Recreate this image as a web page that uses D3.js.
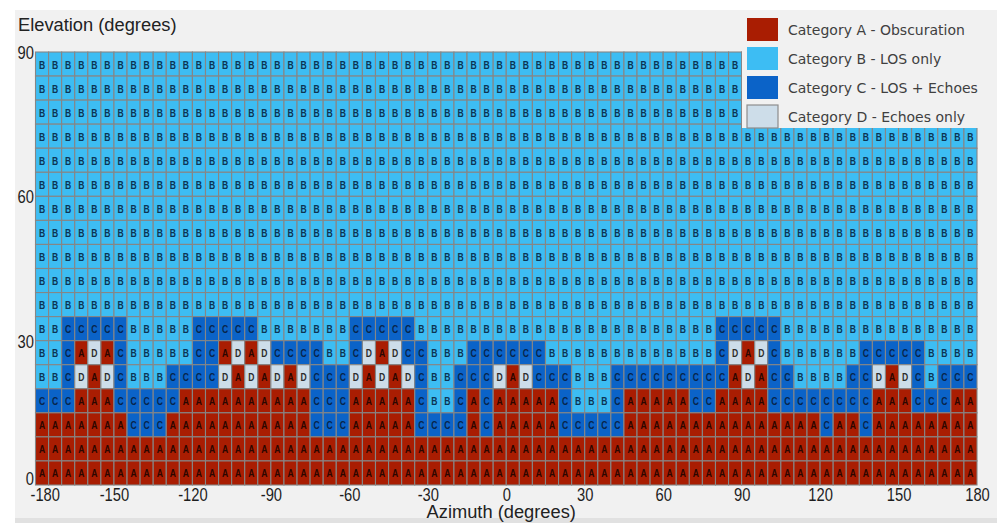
<!DOCTYPE html>
<html>
<head>
<meta charset="utf-8">
<script src="https://cdn.jsdelivr.net/npm/d3@7"></script>
<style>
  body { margin: 0; background: #ffffff; }
  svg { display: block; }
</style>
</head>
<body>
<svg id="chart" width="997" height="523"></svg>
<script>
// Azimuth bins (left edge of each 5° column)
const azimuthBins = [
  -180, -175, -170, -165, -160, -155, -150, -145, -140, -135, -130, -125,
  -120, -115, -110, -105, -100, -95, -90, -85, -80, -75, -70, -65,
  -60, -55, -50, -45, -40, -35, -30, -25, -20, -15, -10, -5,
  0, 5, 10, 15, 20, 25, 30, 35, 40, 45, 50, 55,
  60, 65, 70, 75, 80, 85, 90, 95, 100, 105, 110, 115,
  120, 125, 130, 135, 140, 145, 150, 155, 160, 165, 170, 175
];

// Elevation bins (lower edge of each 5° row), top row first
const elevationBins = [85, 80, 75, 70, 65, 60, 55, 50, 45, 40, 35, 30, 25, 20, 15, 10, 5, 0];

// Category of every cell, one string per elevation bin (same order as elevationBins),
// one letter per azimuth bin; spaces only group the bins by twelve.
const categoryRows = [
  "BBBBBBBBBBBB BBBBBBBBBBBB BBBBBBBBBBBB BBBBBBBBBBBB BBBBBBBBBBBB BBBBBBBBBBBB",
  "BBBBBBBBBBBB BBBBBBBBBBBB BBBBBBBBBBBB BBBBBBBBBBBB BBBBBBBBBBBB BBBBBBBBBBBB",
  "BBBBBBBBBBBB BBBBBBBBBBBB BBBBBBBBBBBB BBBBBBBBBBBB BBBBBBBBBBBB BBBBBBBBBBBB",
  "BBBBBBBBBBBB BBBBBBBBBBBB BBBBBBBBBBBB BBBBBBBBBBBB BBBBBBBBBBBB BBBBBBBBBBBB",
  "BBBBBBBBBBBB BBBBBBBBBBBB BBBBBBBBBBBB BBBBBBBBBBBB BBBBBBBBBBBB BBBBBBBBBBBB",
  "BBBBBBBBBBBB BBBBBBBBBBBB BBBBBBBBBBBB BBBBBBBBBBBB BBBBBBBBBBBB BBBBBBBBBBBB",
  "BBBBBBBBBBBB BBBBBBBBBBBB BBBBBBBBBBBB BBBBBBBBBBBB BBBBBBBBBBBB BBBBBBBBBBBB",
  "BBBBBBBBBBBB BBBBBBBBBBBB BBBBBBBBBBBB BBBBBBBBBBBB BBBBBBBBBBBB BBBBBBBBBBBB",
  "BBBBBBBBBBBB BBBBBBBBBBBB BBBBBBBBBBBB BBBBBBBBBBBB BBBBBBBBBBBB BBBBBBBBBBBB",
  "BBBBBBBBBBBB BBBBBBBBBBBB BBBBBBBBBBBB BBBBBBBBBBBB BBBBBBBBBBBB BBBBBBBBBBBB",
  "BBBBBBBBBBBB BBBBBBBBBBBB BBBBBBBBBBBB BBBBBBBBBBBB BBBBBBBBBBBB BBBBBBBBBBBB",
  "BBCCCCCBBBBB CCCCCBBBBBBB CCCCCBBBBBBB BBBBBBBBBBBB BBBBCCCCCBBB BBBBBBBBBBBB",
  "BBCADACBBBBB CCADADCCCCBB CDADCCBBBCCC CCCBBBBBBBBB BBBBCDADCBBB BBBCCCCCBBBB",
  "BBCDADCBBBCC CCDADADADCCC DADADCBBCCCD ADCCCBBBCCCC CCCCCADACCBB BBCCDADCBCCC",
  "CCCAAACCCCCA AAAAAAAAACCC AAAAACBBCACA AAAACBBBCAAA AACCAAAACCCC CCCCAAACCCAA",
  "AAAAAAACCCAA AAAAAAAAACCC AAAAACCCCACA AAAACCCCCAAA AAAAAAAAAAAA CAACAAAAAAAA",
  "AAAAAAAAAAAA AAAAAAAAAAAA AAAAAAAAAAAA AAAAAAAAAAAA AAAAAAAAAAAA AAAAAAAAAAAA",
  "AAAAAAAAAAAA AAAAAAAAAAAA AAAAAAAAAAAA AAAAAAAAAAAA AAAAAAAAAAAA AAAAAAAAAAAA"
];

const categoryKeys = ["A", "B", "C", "D"];
const categoryLabels = [
  "Category A - Obscuration",
  "Category B - LOS only",
  "Category C - LOS + Echoes",
  "Category D - Echoes only"
];

const azimuthTicks = [-180, -150, -120, -90, -60, -30, 0, 30, 60, 90, 120, 150, 180];
const elevationTicks = [0, 30, 60, 90];

// ---- styling ----
const cellFill = { A: "#a91d02", B: "#3dbdf3", C: "#0b63c8", D: "#cddde9" };
const letterFill = { A: "#2a0600", B: "#0c3454", C: "#08254a", D: "#2c2c2c" };
const panelFill = "#f1f1f1";
const binWidth = 5;

const svg = d3.select("#chart");

// background panel
svg.append("rect").attr("x", 15).attr("y", 10).attr("width", 982).attr("height", 508)
  .attr("fill", panelFill);
svg.append("rect").attr("x", 15).attr("y", 518).attr("width", 982).attr("height", 5)
  .attr("fill", "#e1e1e1");

const x = d3.scaleLinear().domain([-180, 180]).range([35.5, 977]);
const y = d3.scaleLinear().domain([0, 90]).range([485, 52]);

// flatten cells
const cells = [];
elevationBins.forEach((el, i) => {
  const codes = categoryRows[i].replace(/ /g, "").split("");
  codes.forEach((cat, k) => {
    cells.push({ az: azimuthBins[k], el: el, cat: cat });
  });
});

const grid = svg.append("g").attr("class", "grid");

grid.selectAll("rect.cell")
  .data(cells)
  .join("rect")
  .attr("class", "cell")
  .attr("x", d => x(d.az))
  .attr("y", d => y(d.el + binWidth))
  .attr("width", d => x(d.az + binWidth) - x(d.az))
  .attr("height", d => y(d.el) - y(d.el + binWidth))
  .attr("fill", d => cellFill[d.cat])
  .attr("stroke", "#868686")
  .attr("stroke-width", 1.1);

grid.selectAll("text.code")
  .data(cells)
  .join("text")
  .attr("class", "code")
  .attr("transform", d => {
    const cx = (x(d.az) + x(d.az + binWidth)) / 2;
    const cy = (y(d.el) + y(d.el + binWidth)) / 2;
    return `translate(${cx},${cy + 4.5}) scale(1,1.3)`;
  })
  .attr("text-anchor", "middle")
  .attr("font-family", "Liberation Sans, Arial, sans-serif")
  .attr("font-weight", "bold")
  .attr("font-size", 8.6)
  .attr("fill", d => letterFill[d.cat])
  .text(d => d.cat);

// ---- axes ----
const tickFont = "Liberation Sans, Arial, sans-serif";

const xAxis = svg.append("g")
  .attr("transform", `translate(0,${y(0)})`)
  .call(d3.axisBottom(x).tickValues(azimuthTicks).tickSize(0).tickFormat(d => String(d)));
xAxis.select(".domain").remove();
xAxis.selectAll("text")
  .attr("y", 16.5)
  .attr("dy", null)
  .attr("fill", "#1e1e1e")
  .attr("font-family", tickFont)
  .attr("font-size", 18)
  .attr("transform", "scale(0.82,1)");
xAxis.selectAll("text").filter(d => d === -180)
  .attr("text-anchor", "start")
  .attr("x", (30 - x(-180)) / 0.82);

const yAxis = svg.append("g")
  .attr("transform", `translate(${x(-180)},0)`)
  .call(d3.axisLeft(y).tickValues(elevationTicks).tickSize(0).tickPadding(2).tickFormat(d => String(d)));
yAxis.select(".domain").remove();
yAxis.selectAll("text")
  .attr("fill", "#1e1e1e")
  .attr("font-family", tickFont)
  .attr("font-size", 18)
  .attr("dy", "0.36em")
  .attr("transform", "scale(0.82,1)");
yAxis.selectAll("text").filter(d => d === 0)
  .attr("y", -7);

// axis titles
svg.append("text")
  .attr("x", 18).attr("y", 31)
  .attr("font-family", tickFont).attr("font-size", 18.3)
  .attr("fill", "#222")
  .text("Elevation (degrees)");

svg.append("text")
  .attr("x", (x(-180) + x(180)) / 2 - 5).attr("y", 518)
  .attr("text-anchor", "middle")
  .attr("font-family", tickFont).attr("font-size", 18.3)
  .attr("fill", "#222")
  .text("Azimuth (degrees)");

// ---- legend ----
const legend = svg.append("g").attr("class", "legend");
legend.append("rect").attr("x", 742).attr("y", 10).attr("width", 255).attr("height", 118)
  .attr("fill", panelFill);

const items = legend.selectAll("g.item")
  .data(categoryKeys.map((k, i) => ({ key: k, label: categoryLabels[i], i: i })))
  .join("g")
  .attr("class", "item")
  .attr("transform", d => `translate(747,${18 + d.i * 29})`);

items.append("rect")
  .attr("width", 31).attr("height", 23)
  .attr("fill", d => cellFill[d.key])
  .attr("stroke", d => d.key === "D" ? "#8d8d8d" : "none")
  .attr("stroke-width", 1.2);

items.append("text")
  .attr("x", 41).attr("y", 17)
  .attr("font-family", "DejaVu Sans, Verdana, sans-serif")
  .attr("font-size", 14)
  .attr("fill", "#404040")
  .text(d => d.label);
</script>
</body>
</html>
